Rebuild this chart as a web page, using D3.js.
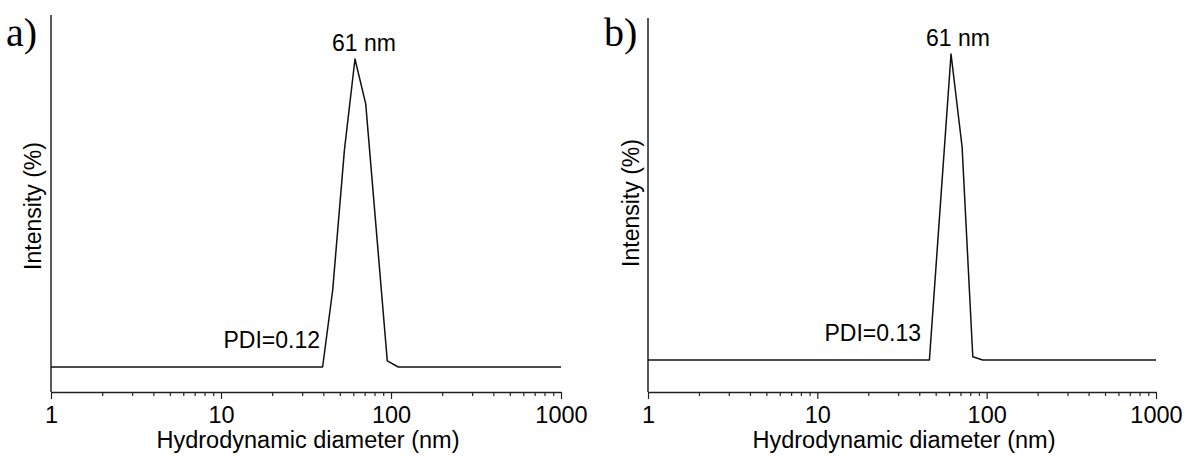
<!DOCTYPE html>
<html>
<head>
<meta charset="utf-8">
<script src="https://cdn.jsdelivr.net/npm/d3@7"></script>
<style>
  body { margin: 0; background: #fff; }
  svg { display: block; }
  text { font-family: "Liberation Sans", Arial, sans-serif; fill: #000; }
</style>
</head>
<body>
<div id="chart"></div>
<script>
// Size distribution (by intensity)
const diamA = [1, 39.6, 45.4, 53.2, 61.4, 71.0, 95.1, 110.4, 1000];
const intensA = [0, 0, 6.0, 16.9, 24.0, 20.5, 0.47, 0, 0];

const diamB = [1, 45.9, 61.6, 71.6, 82.8, 94.8, 1000];
const intensB = [0, 0, 26.0, 18.1, 0.28, 0, 0];

const xTickLabels = ["1", "10", "100", "1000"];
const panelLabels = ["a)", "b)"];
const peakLabels = ["61 nm", "61 nm"];
const pdiLabels = ["PDI=0.12", "PDI=0.13"];

const width = 1186, height = 456;

const svg = d3.select("#chart").append("svg")
    .attr("width", width)
    .attr("height", height);

// panel layouts
const panels = [
  { diam: diamA, intens: intensA, x0: 51, x1: 561, yTop: 15, yBot: 392, yDomain: [-1.95, 27.43],
    tag: [6, 46], peak: [364, 51], pdi: [320, 348], ylab: [41, 206] },
  { diam: diamB, intens: intensB, x0: 648, x1: 1156, yTop: 18, yBot: 392, yDomain: [-2.72, 29.06],
    tag: [604, 46], peak: [958, 46], pdi: [921, 341], ylab: [639, 203] }
];

panels.forEach(function(p, i) {
  const x = d3.scaleLog().domain([1, 1000]).range([p.x0, p.x1]);
  const y = d3.scaleLinear().domain(p.yDomain).range([p.yBot, p.yTop]);

  const g = svg.append("g");

  // x axis with log minor ticks
  const tickVals = x.ticks();
  const axis = d3.axisBottom(x)
      .tickValues(tickVals)
      .tickSizeOuter(0)
      .tickSize(0)
      .tickFormat(d => {
        const k = [1, 10, 100, 1000].indexOf(d);
        return k >= 0 ? xTickLabels[k] : "";
      });

  const ax = g.append("g")
      .attr("transform", `translate(0,${p.yBot})`)
      .call(axis);
  ax.select(".domain").attr("stroke", "#222").attr("stroke-width", 1.5);
  ax.selectAll(".tick line")
      .attr("stroke", "#222")
      .attr("stroke-width", 1.2)
      .attr("y2", d => [1, 10, 100, 1000].includes(d) ? 7 : 4);
  ax.selectAll(".tick text")
      .attr("y", 14)
      .attr("dy", "0.71em")
      .style("font-size", "23.5px")
      .style("font-family", "'Liberation Sans', Arial, sans-serif")
      .attr("fill", "#000");

  // y axis: plain line, no ticks
  g.append("line")
      .attr("x1", p.x0).attr("x2", p.x0)
      .attr("y1", p.yTop).attr("y2", p.yBot)
      .attr("stroke", "#222")
      .attr("stroke-width", 1.5);

  // curve
  const line = d3.line()
      .x((d, j) => x(p.diam[j]))
      .y(d => y(d));
  g.append("path")
      .datum(p.intens)
      .attr("fill", "none")
      .attr("stroke", "#111")
      .attr("stroke-width", 1.5)
      .attr("stroke-linejoin", "round")
      .attr("d", line);

  // axis titles
  g.append("text")
      .attr("x", (p.x0 + p.x1) / 2 + 2)
      .attr("y", 448)
      .attr("text-anchor", "middle")
      .style("font-size", "23.5px")
      .text("Hydrodynamic diameter (nm)");

  g.append("text")
      .attr("transform", `translate(${p.ylab[0]},${p.ylab[1]}) rotate(-90)`)
      .attr("text-anchor", "middle")
      .style("font-size", "23px")
      .text("Intensity (%)");

  // annotations
  g.append("text")
      .attr("x", p.peak[0]).attr("y", p.peak[1])
      .attr("text-anchor", "middle")
      .style("font-size", "23px")
      .text(peakLabels[i]);

  g.append("text")
      .attr("x", p.pdi[0]).attr("y", p.pdi[1])
      .attr("text-anchor", "end")
      .style("font-size", "23px")
      .text(pdiLabels[i]);

  g.append("text")
      .attr("x", p.tag[0]).attr("y", p.tag[1])
      .style("font-family", "'Liberation Serif', 'Times New Roman', serif")
      .style("font-size", "40px")
      .text(panelLabels[i]);
});
</script>
</body>
</html>
